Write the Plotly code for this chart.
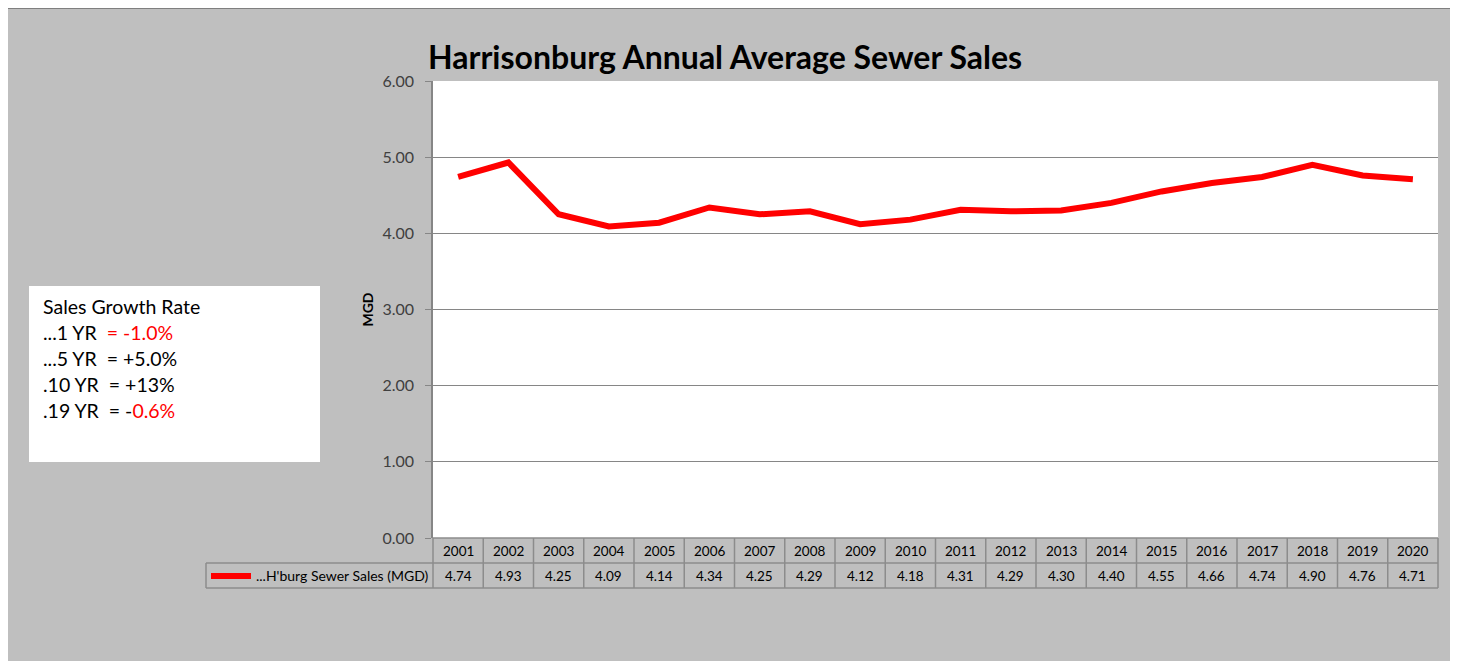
import plotly.graph_objects as go

years = [str(y) for y in range(2001, 2021)]
sales = [4.74, 4.93, 4.25, 4.09, 4.14, 4.34, 4.25, 4.29, 4.12, 4.18,
         4.31, 4.29, 4.30, 4.40, 4.55, 4.66, 4.74, 4.90, 4.76, 4.71]
series_name = "...H'burg Sewer Sales (MGD)"

growth_title = "Sales Growth Rate"
growth_labels = ["...1 YR", "...5 YR", ".10 YR", ".19 YR"]
growth_black = ["", "= +5.0%", "= +13%", "= -"]
growth_red = ["= -1.0%", "", "", "0.6%"]

# page body has an 8px margin, so the figure is 8px smaller than the window
OFF = 8
W, H = 1458 - OFF, 661 - OFF
L, R, T, B = 433, 1438, 81, 538   # plot area in window pixels
FONT = "Lato"
GRID = "#868686"


def px(x):
    return (x - L) / (R - L)


def py(y):
    return (B - y) / (B - T)


fig = go.Figure()
fig.add_trace(go.Scatter(
    x=years, y=sales, mode="lines", name=series_name,
    line=dict(color="#FF0000", width=6), showlegend=False,
))

shapes = []
annotations = []


def note(x, y, text, size, xanchor="center", color="black"):
    annotations.append(dict(x=x, y=y, xref="paper", yref="paper", text=text,
                            showarrow=False, xanchor=xanchor, yanchor="middle",
                            font=dict(family=FONT, size=size, color=color)))


# gray chart area
shapes.append(dict(type="rect", xref="paper", yref="paper", layer="below",
                   x0=px(7), x1=px(1452), y0=py(675), y1=py(8),
                   fillcolor="#BFBFBF", line=dict(color="#7F7F7F", width=2)))
# plot area white
shapes.append(dict(type="rect", xref="paper", yref="paper", layer="below",
                   x0=0, x1=1, y0=0, y1=1, fillcolor="white", line=dict(width=0)))

# data table
n = len(years)
row1, row2 = py(563), py(588)
tline = dict(color="#8C8C8C", width=1.5)
shapes.append(dict(type="line", xref="paper", yref="paper", x0=0, x1=1, y0=0, y1=0, line=tline))
shapes.append(dict(type="line", xref="paper", yref="paper", x0=px(206), x1=1, y0=row1, y1=row1, line=tline))
shapes.append(dict(type="line", xref="paper", yref="paper", x0=px(206), x1=1, y0=row2, y1=row2, line=tline))
shapes.append(dict(type="line", xref="paper", yref="paper", x0=px(206), x1=px(206), y0=row1, y1=row2, line=tline))
for i in range(n + 1):
    shapes.append(dict(type="line", xref="paper", yref="paper", x0=i / n, x1=i / n,
                       y0=0, y1=row2, line=tline))
for i, (yr, v) in enumerate(zip(years, sales)):
    xc = (i + 0.5) / n
    note(xc, row1 / 2, yr, 13.5)
    note(xc, (row1 + row2) / 2, f"{v:.2f}", 13.5)
# legend key in table
shapes.append(dict(type="line", xref="paper", yref="paper", x0=px(211), x1=px(251),
                   y0=py(576), y1=py(576), line=dict(color="#FF0000", width=6)))
note(px(431), (row1 + row2) / 2, series_name, 14, xanchor="right")

# growth text box
shapes.append(dict(type="rect", xref="paper", yref="paper", layer="below",
                   x0=px(29), x1=px(320), y0=py(462), y1=py(286),
                   fillcolor="white", line=dict(width=0)))
note(px(41), py(306), growth_title, 19.5, xanchor="left")
for k, (lab, blk, red) in enumerate(zip(growth_labels, growth_black, growth_red)):
    txt = lab + "\u00a0\u00a0" + blk
    if red:
        txt += f"<span style='color:#FF0000'>{red}</span>"
    note(px(41), py(332 + 26 * k), txt, 19.5, xanchor="left")

# title
note(px(725), py(57), "<b>Harrisonburg Annual Average Sewer Sales</b>", 32)

fig.update_layout(
    width=W, height=H,
    margin=dict(l=L - OFF, r=W - (R - OFF), t=T - OFF, b=H - (B - OFF)),
    paper_bgcolor="white", plot_bgcolor="white",
    shapes=shapes, annotations=annotations,
    xaxis=dict(type="category", range=[-0.5, n - 0.5], showticklabels=False,
               showgrid=False, zeroline=False, showline=False, ticks=""),
    yaxis=dict(range=[0, 6], dtick=1, tickformat=".2f", showgrid=True, gridcolor=GRID,
               gridwidth=1, zeroline=False, showline=True, linecolor=GRID, linewidth=1.5,
               ticks="outside", ticklen=6, tickcolor=GRID, ticklabelstandoff=8,
               tickfont=dict(family=FONT, size=16, color="#404040"),
               title=dict(text="<b>MGD</b>", font=dict(family=FONT, size=14, color="black"),
                          standoff=6)),
)

fig.write_html("out.html")
